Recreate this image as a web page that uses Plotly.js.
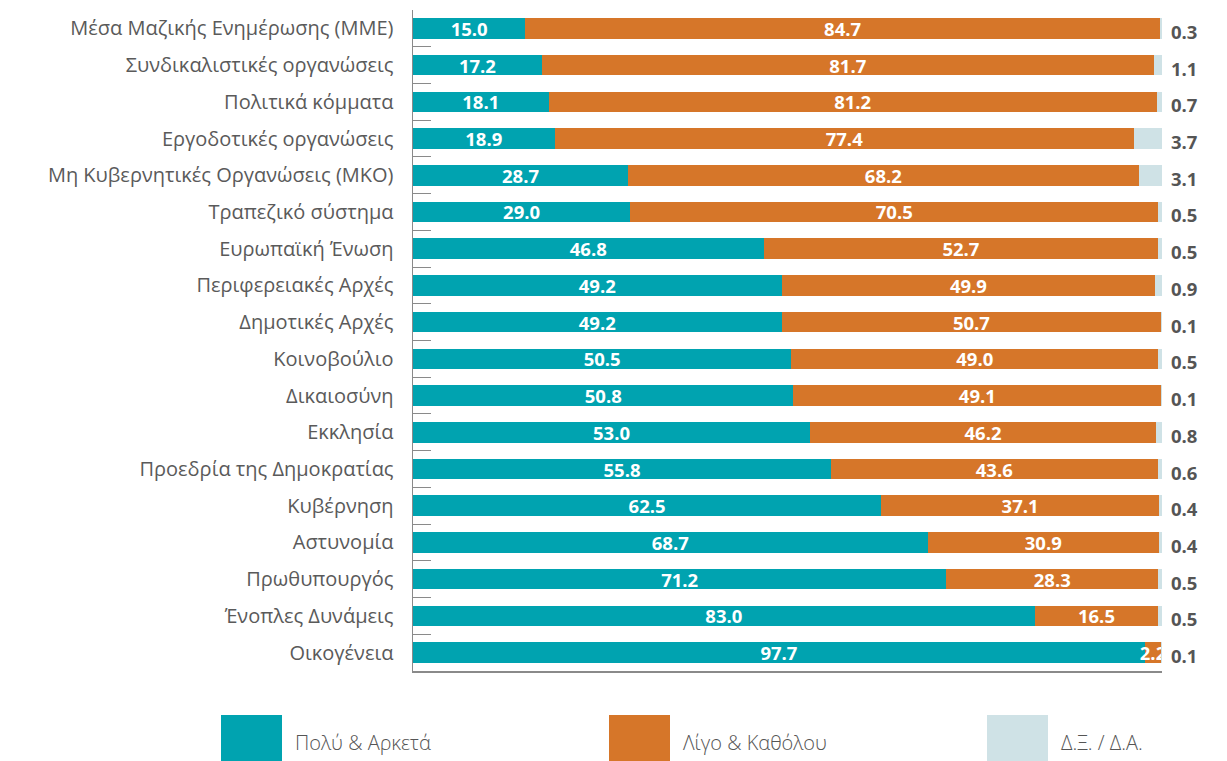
<!DOCTYPE html>
<html><head><meta charset="utf-8">
<script src="https://cdn.plot.ly/plotly-3.0.1.min.js"></script>
<style>html,body{margin:0;padding:0;background:#fff}#chart{width:1227px;height:761px}</style>
</head><body><div id="chart"></div>
<script>
const categories = [
  "Μέσα Μαζικής Ενημέρωσης (ΜΜΕ)",
  "Συνδικαλιστικές οργανώσεις",
  "Πολιτικά κόμματα",
  "Εργοδοτικές οργανώσεις",
  "Μη Κυβερνητικές Οργανώσεις (ΜΚΟ)",
  "Τραπεζικό σύστημα",
  "Ευρωπαϊκή Ένωση",
  "Περιφερειακές Αρχές",
  "Δημοτικές Αρχές",
  "Κοινοβούλιο",
  "Δικαιοσύνη",
  "Εκκλησία",
  "Προεδρία της Δημοκρατίας",
  "Κυβέρνηση",
  "Αστυνομία",
  "Πρωθυπουργός",
  "Ένοπλες Δυνάμεις",
  "Οικογένεια"
];
const poluArketa = [15.0,17.2,18.1,18.9,28.7,29.0,46.8,49.2,49.2,50.5,50.8,53.0,55.8,62.5,68.7,71.2,83.0,97.7];
const ligoKatholou = [84.7,81.7,81.2,77.4,68.2,70.5,52.7,49.9,50.7,49.0,49.1,46.2,43.6,37.1,30.9,28.3,16.5,2.2];
const dkNa = [0.3,1.1,0.7,3.7,3.1,0.5,0.5,0.9,0.1,0.5,0.1,0.8,0.6,0.4,0.4,0.5,0.5,0.1];
const seriesNames = ["Πολύ & Αρκετά","Λίγο & Καθόλου","Δ.Ξ. / Δ.Α."];
const colors = ["#00A3B0","#D67629","#CFE2E6"];

const fmt = v => v.toFixed(1);
const barFont = {family:"'Open Sans', sans-serif", size:18.5, color:"#ffffff", weight:700};

const traces = [
  {type:"bar", orientation:"h", y:categories, x:poluArketa, name:seriesNames[0],
   marker:{color:colors[0]}, text:poluArketa.map(fmt), textposition:"inside", textangle:0,
   insidetextanchor:"middle", textfont:barFont, constraintext:"none", hoverinfo:"x+y", showlegend:false},
  {type:"bar", orientation:"h", y:categories, x:ligoKatholou, name:seriesNames[1],
   marker:{color:colors[1]}, text:ligoKatholou.map(fmt), textposition:"inside", textangle:0,
   insidetextanchor:"middle", textfont:barFont, constraintext:"none", hoverinfo:"x+y", showlegend:false},
  {type:"bar", orientation:"h", y:categories, x:dkNa, name:seriesNames[2],
   marker:{color:colors[2]}, textposition:"none", hoverinfo:"x+y", showlegend:false}
];

const annotations = categories.map((c,i)=>({
  x:100, y:c, xref:"x", yref:"y", xanchor:"left", xshift:7, yshift:-3,
  text:fmt(dkNa[i]), showarrow:false,
  font:{family:"'Open Sans', sans-serif", size:18.5, color:"#555555", weight:700}
}));

// custom legend: large swatches
const legendX = [221, 609, 987];
const shapes = [];
seriesNames.forEach((n,i)=>{
  shapes.push({type:"rect", xref:"paper", yref:"paper",
    x0:(legendX[i]-413)/749, x1:(legendX[i]+61-413)/749,
    y0:(671-761)/661, y1:(671-715)/661,
    fillcolor:colors[i], line:{width:0}, layer:"above"});
  annotations.push({xref:"paper", yref:"paper", x:(legendX[i]+72-413)/749, y:(671-742)/661,
    xanchor:"left", yanchor:"middle", text:n, showarrow:false,
    font:{family:"'Open Sans', sans-serif", size:20, color:"#555555", weight:300}});
});

const layout = {
  width:1227, height:761,
  margin:{l:413, r:65, t:10, b:90},
  barmode:"stack", bargap:0.44,
  uniformtext:{mode:"show", minsize:18.5},
  paper_bgcolor:"#ffffff", plot_bgcolor:"#ffffff",
  xaxis:{range:[0,100], showgrid:false, zeroline:false, showticklabels:false, ticks:"",
    showline:true, linecolor:"#8a8a8a", linewidth:1.5, fixedrange:true},
  yaxis:{autorange:"reversed", showgrid:false, zeroline:false, showline:true,
    linecolor:"#8a8a8a", linewidth:1.5, ticks:"inside", tickson:"boundaries",
    ticklen:18, tickcolor:"#8a8a8a", tickwidth:1, ticklabelstandoff:14,
    tickfont:{family:"'Open Sans', sans-serif", size:20, color:"#5a5a5a"}},
  annotations:annotations, shapes:shapes, showlegend:false
};
Plotly.newPlot("chart", traces, layout, {displayModeBar:false, staticPlot:true});
</script></body></html>
